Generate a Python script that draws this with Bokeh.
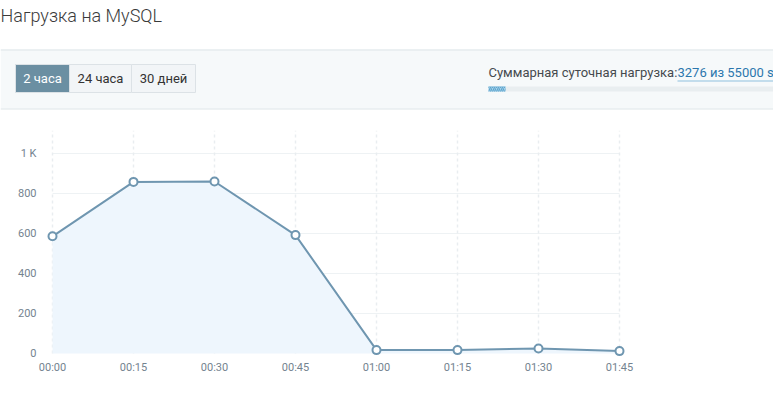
from bokeh.plotting import figure
from bokeh.layouts import column
from bokeh.models import Range1d, FixedTicker, ColumnDataSource
from bokeh.core.properties import value
from bokeh.embed import file_html
from bokeh.resources import INLINE

# ---- data ----
times = ["00:00", "00:15", "00:30", "00:45", "01:00", "01:15", "01:30", "01:45"]
minutes = [0, 15, 30, 45, 60, 75, 90, 105]
load = [586, 858, 860, 592, 17, 17, 25, 12]
y_ticks = [0, 200, 400, 600, 800, 1000]
y_tick_labels = ["0", "200", "400", "600", "800", "1 K"]
title_text = "Нагрузка на MySQL"
periods = ["2 часа", "24 часа", "30 дней"]
quota_label = "Суммарная суточная нагрузка:"
quota_used = 3276
quota_total = 55000
quota_text = f"{quota_used} из {quota_total} s"

FONT = value("Roboto")
W = 773


def blank(height):
    f = figure(width=W, height=height, x_range=Range1d(0, W), y_range=Range1d(height, 0),
               toolbar_location=None, output_backend="svg", min_border=0,
               outline_line_color=None, background_fill_color="white", frame_align=False)
    f.axis.visible = False
    f.grid.visible = False
    return f


# ---- header (page pixel coordinates) ----
H1 = 115
hdr = blank(H1)
hdr.text(x=[0], y=[15], text=[title_text], text_font=value("'Roboto Light', Roboto"),
         text_font_size="18px", text_color="#3a3a3a", text_baseline="middle", text_align="left")

# panel band
hdr.quad(left=[0], right=[W], top=[49], bottom=[108], fill_color="#f6f9fa", line_color=None)
hdr.segment(x0=[0, 0], x1=[W, W], y0=[49.5, 108.5], y1=[49.5, 108.5], line_color="#dde5e8", line_width=1)

# buttons
btn_l = [15, 69, 131]
btn_r = [69, 131, 195]
btn_fill = ["#6b8fa2", "#f2f5f7", "#f2f5f7"]
btn_txt = ["#ffffff", "#333333", "#333333"]
hdr.quad(left=btn_l, right=btn_r, top=[64] * 3, bottom=[92] * 3, fill_color=btn_fill,
         line_color="#dce2e6", line_width=1)
hdr.text(x=[(a + b) / 2 for a, b in zip(btn_l, btn_r)], y=[77.5] * 3, text=periods,
         text_font=FONT, text_font_size="13px", text_color=btn_txt,
         text_baseline="middle", text_align="center")

# quota
hdr.text(x=[488], y=[72], text=[quota_label], text_font=FONT, text_font_size="13px",
         text_color="#454a4e", text_baseline="middle", text_align="left")
hdr.text(x=[677], y=[72], text=[quota_text], text_font=FONT, text_font_size="13px",
         text_color="#2b77ad", text_baseline="middle", text_align="left")
hdr.segment(x0=[677], x1=[W], y0=[80.5], y1=[80.5], line_color="#8fc0de", line_width=1)
hdr.quad(left=[488], right=[W], top=[86], bottom=[91], fill_color="#e9eef0", line_color=None)
bar_w = 285 * quota_used / quota_total
hdr.quad(left=[488], right=[488 + bar_w], top=[86], bottom=[91], fill_color="#a8d3ea",
         line_color=None, hatch_pattern="/", hatch_color="#5fa6cf", hatch_scale=4, hatch_weight=1.2)

# ---- chart ----
H3 = 6
H2 = 411 - H1 - H3
x0 = -8 / 5.4
x1 = (630 - 52) / 5.4
p = figure(width=W, height=H2, x_range=Range1d(x0, x1), y_range=Range1d(-25, 1115),
           toolbar_location=None, output_backend="svg", frame_align=False,
           min_border_left=44, min_border_right=W - 630, min_border_top=15,
           min_border_bottom=H2 - 243,
           outline_line_color=None, background_fill_color="white")
p.grid.visible = False

src = ColumnDataSource(dict(x=minutes, y=load, t=times))

# grid lines
p.segment(x0=[0] * 5, x1=[105] * 5, y0=y_ticks[1:], y1=y_ticks[1:], line_color="#eef2f4", line_width=1)
p.segment(x0=minutes, x1=minutes, y0=[0] * len(minutes), y1=[1115] * len(minutes),
          line_color="#e9edf0", line_width=1.5, line_dash="3 3")

p.varea(x="x", y1=0, y2="y", source=src, fill_color="#eef6fd")
p.line(x="x", y="y", source=src, line_color="#6f96b0", line_width=2)
p.scatter(x="x", y="y", source=src, size=8, fill_color="white", line_color="#6f96b0", line_width=2)

p.xaxis.ticker = FixedTicker(ticks=minutes)
p.xaxis.major_label_overrides = {m: t for m, t in zip(minutes, times)}
p.yaxis.ticker = FixedTicker(ticks=y_ticks)
p.yaxis.major_label_overrides = {v: l for v, l in zip(y_ticks, y_tick_labels)}
for ax in (p.xaxis, p.yaxis):
    ax.axis_line_color = None
    ax.major_tick_line_color = None
    ax.minor_tick_line_color = None
    ax.major_label_text_font = "Roboto"
    ax.major_label_text_font_size = "11px"
    ax.major_label_text_color = "#74838f"
p.xaxis.major_label_standoff = -4
p.yaxis.major_label_standoff = 2

# ---- footer line ----
ftr = blank(H3)
ftr.segment(x0=[0], x1=[W], y0=[3.5], y1=[3.5], line_color="#d6e0e2", line_width=1.5)

layout = column(hdr, p, ftr, spacing=0)
open("out.html", "w").write(file_html(layout, INLINE))
